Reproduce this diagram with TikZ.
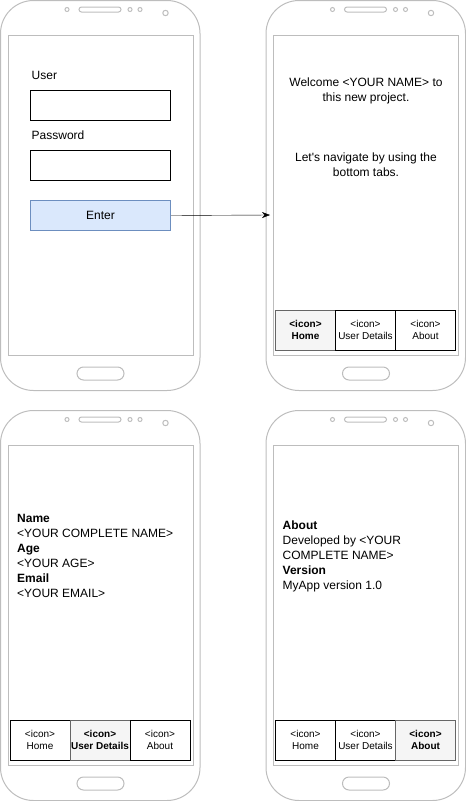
\documentclass[tikz,border=0pt]{standalone}
\usepackage{fontspec}
\setmainfont{Liberation Sans}
\usetikzlibrary{arrows.meta}
\definecolor{phonegray}{HTML}{BDBDBD}
\definecolor{enterfill}{HTML}{DAE8FC}
\definecolor{enterline}{HTML}{6C8EBF}
\definecolor{tabfill}{HTML}{F5F5F5}
\definecolor{tabline}{HTML}{666666}

\begin{document}
\begin{tikzpicture}[x = 1pt, y = -1pt,
        phone/.style = {draw = phonegray, line width = 1pt},
        txt/.style = {inner sep = 0pt, font = \fontsize{12}{15}\selectfont},
        field/.style = {draw = black, line width = 1pt, minimum width = 140pt, minimum height = 30pt,
            inner sep = 0pt, anchor = north west, font = \fontsize{12}{15}\selectfont},
        tab/.style = {draw = black, fill = white, line width = 1pt, minimum width = 60pt, minimum height = 40pt,
            inner sep = 0pt, align = center, font = \fontsize{10}{11.5}\selectfont},
        seltab/.style = {tab, draw = tabline, fill = tabfill, font = \fontsize{10}{11.5}\selectfont\bfseries}]
        \useasboundingbox (0, 0) rectangle (466, 801);
        % the four phones
        \foreach \px/\py in {0/0, 265.5/0, 0/410, 265.5/410}{
            \begin{scope}[shift = {(\px, \py)}]
                \draw[phone, rounded corners = 33pt] (0.5, 0.5) rectangle (200, 390.5);
                \draw[phone] (8, 35) rectangle (193, 355);
                \draw[phone, rounded corners = 6.5pt] (77, 367) rectangle (124, 380);
                \draw[phone, rounded corners = 2.5pt] (79, 7) rectangle (121, 12);
                \draw[phone] (67, 9.5) circle (2pt) (130, 9.5) circle (2pt) (140, 9.5) circle (2pt);
                \draw[phone] (165.5, 13) circle (2.7pt);
            \end{scope}
        }
        % login
        \node[txt, anchor = west] (user) at (31.5, 75) {User};
        \node[field] (userbox) at (30, 90) {};
        \node[txt, anchor = west] (pass) at (31.5, 135) {Password};
        \node[field] (passbox) at (30, 150) {};
        \node[field, draw = enterline, fill = enterfill] (enter) at (30, 200) {Enter};
        \coordinate (target) at (270, 215);
        \draw[-{Stealth[length = 8pt, width = 6pt]}] (enter.east) -- (target);
        % home
        \node[txt, align = center] (welcome) at (366, 90.8) {Welcome <YOUR NAME> to\\this new project.};
        \node[txt, align = center] (navigate) at (366, 165.2) {Let\textquotesingle s navigate by using the\\bottom tabs.};
        % user details
        \node[txt, align = left, anchor = west] (details) at (17, 555.5)
            {\textbf{Name}\\<YOUR COMPLETE NAME>\\\textbf{Age}\\<YOUR AGE>\\\textbf{Email}\\<YOUR EMAIL>};
        % about
        \node[txt, align = left, anchor = west] (about) at (282.5, 556.5)
            {\textbf{About}\\Developed by <YOUR\\COMPLETE NAME>\\\textbf{Version}\\MyApp version 1.0};
        % tab bars
        \foreach \s/\bx/\by/\sel in {2/305.5/330/1, 3/40/740/2, 4/305.5/740/3}{
            \foreach \k/\tname in {1/Home, 2/User Details, 3/About}{
                \pgfmathsetmacro{\tx}{\bx + 60 * (\k - 1)}
                \ifnum\k=\sel
                    \node[seltab] (t\s\k) at (\tx, \by) {<icon>\\\tname};
                \else
                    \node[tab] (t\s\k) at (\tx, \by) {<icon>\\\tname};
                \fi
            }
        }
    \end{tikzpicture}
\end{document}
